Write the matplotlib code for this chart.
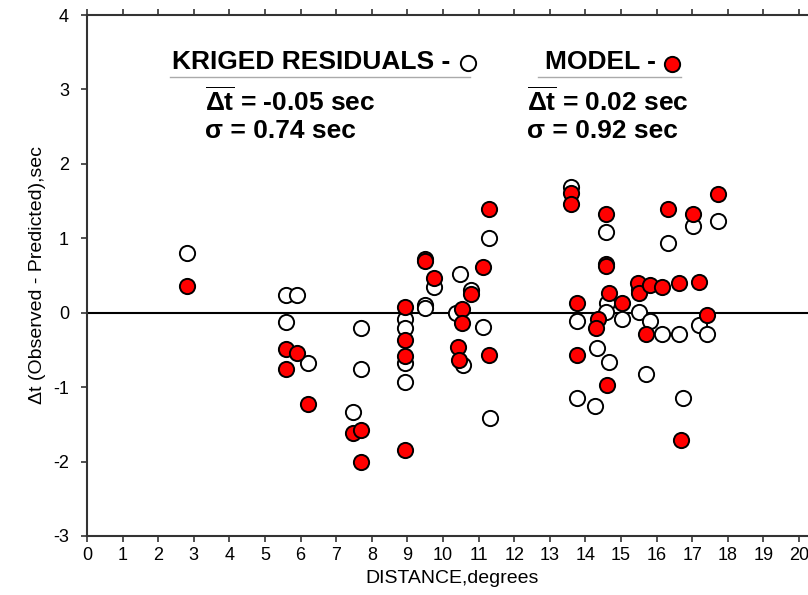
import matplotlib
matplotlib.use("Agg")
import matplotlib.pyplot as plt
from matplotlib.lines import Line2D

plt.rcParams['font.family'] = ['Liberation Sans', 'DejaVu Sans']
plt.rcParams['mathtext.fontset'] = 'custom'
plt.rcParams['mathtext.rm'] = 'Liberation Sans:bold'
plt.rcParams['mathtext.bf'] = 'Liberation Sans:bold'
plt.rcParams['mathtext.it'] = 'Liberation Sans:bold'
plt.rcParams['axes.unicode_minus'] = False

# Kriged residuals (open circles)
kriged_dist = [2.80, 5.58, 5.89, 5.58, 6.22, 7.70, 7.70, 7.48,
               8.93, 8.93, 8.93, 8.93, 9.49, 9.49, 9.75, 10.48, 10.37, 10.57,
               10.80, 11.11, 11.30, 11.31,
               13.59, 13.77, 13.77, 14.33, 14.27, 14.58, 14.60, 14.59, 14.67,
               15.02, 15.51, 15.51, 15.70, 15.81, 16.14, 16.31, 16.63, 16.73,
               17.03, 17.18, 17.41, 17.73]
kriged_res = [0.80, 0.24, 0.24, -0.13, -0.68, -0.20, -0.75, -1.34,
              -0.09, -0.20, -0.68, -0.93, 0.10, 0.06, 0.35, 0.52, -0.01, -0.70,
              0.31, -0.19, 1.01, -1.42,
              1.69, -0.11, -1.15, -0.48, -1.25, 1.08, 0.13, 0.01, -0.66,
              -0.08, 0.30, 0.005, -0.82, -0.11, -0.29, 0.94, -0.29, -1.15,
              1.16, -0.17, -0.29, 1.23]

# Model residuals (red filled circles)
model_dist = [2.80, 5.58, 5.89, 5.58, 6.22, 7.48, 7.70, 7.70,
              8.93, 8.93, 8.93, 8.93, 9.49, 9.49, 9.75, 10.52, 10.52, 10.41, 10.46,
              10.78, 11.13, 11.30, 11.30,
              13.59, 13.59, 13.77, 13.77, 14.36, 14.30, 14.58, 14.58, 14.58, 14.67,
              14.62, 15.02, 15.49, 15.51, 15.70, 15.81, 16.14, 16.31, 16.63, 16.69,
              17.03, 17.18, 17.41, 17.73]
model_res = [0.36, -0.49, -0.54, -0.75, -1.23, -1.62, -1.57, -2.01,
             0.08, -0.37, -0.58, -1.85, 0.72, 0.70, 0.46, 0.045, -0.14, -0.46, -0.64,
             0.25, 0.61, 1.39, -0.57,
             1.61, 1.46, 0.135, -0.57, -0.09, -0.20, 1.33, 0.65, 0.63, 0.27,
             -0.97, 0.13, 0.40, 0.26, -0.29, 0.37, 0.34, 1.39, 0.40, -1.71,
             1.33, 0.41, -0.03, 1.59]

x_ticks = list(range(0, 21))
y_ticks = list(range(-3, 5))

W, H = 808, 595
fig = plt.figure(figsize=(W / 100, H / 100), dpi=100)
ax = fig.add_axes([87 / W, 59 / H, 20.5 * 35.6 / W, 521 / H])

ax.axhline(0, color='black', lw=1.5, zorder=1)
ax.scatter(kriged_dist, kriged_res, s=120, facecolor='white', edgecolor='black',
           linewidth=1.4, zorder=3)
ax.scatter(model_dist, model_res, s=120, facecolor='#ff0000', edgecolor='black',
           linewidth=1.4, zorder=4)

ax.set_xlim(0, 20.5)
ax.set_ylim(-3, 4)
ax.set_xticks(x_ticks)
ax.set_yticks(y_ticks)
ax.tick_params(axis='both', direction='out', length=4, width=1.2, labelsize=13,
               color='#333333')
ax.tick_params(axis='x', top=True, labeltop=False, pad=4)
ax.tick_params(axis='y', pad=9)
for sp in ['left', 'bottom', 'top']:
    ax.spines[sp].set_linewidth(1.5)
    ax.spines[sp].set_color('#333333')
ax.spines['right'].set_visible(False)

ax.set_xlabel('DISTANCE,degrees', fontsize=14, labelpad=4)
ax.set_ylabel('Δt (Observed - Predicted),sec', fontsize=14, labelpad=5)


def fx(px):
    return px / W


def fy(py):
    return 1 - py / H


hfont = dict(fontsize=19, fontweight='bold', va='center', ha='left')
fig.text(fx(172), fy(62), 'KRIGED RESIDUALS -', **hfont)
fig.text(fx(545), fy(62), 'MODEL -', **hfont)
fig.add_artist(Line2D([fx(468)], [fy(63)], marker='o', ms=11, mfc='white',
                      mec='black', mew=1.4, transform=fig.transFigure))
fig.add_artist(Line2D([fx(672)], [fy(64)], marker='o', ms=11, mfc='#ff0000',
                      mec='black', mew=1.4, transform=fig.transFigure))
fig.add_artist(Line2D([fx(170), fx(470)], [fy(77), fy(77)], color='#aaaaaa',
                      lw=1.0, transform=fig.transFigure))
fig.add_artist(Line2D([fx(538), fx(681)], [fy(77), fy(77)], color='#aaaaaa',
                      lw=1.0, transform=fig.transFigure))

fig.text(fx(205), fy(101), r'$\overline{\Delta t}$ = -0.05 sec', **hfont)
fig.text(fx(205), fy(131), 'σ = 0.74 sec', **hfont)
fig.text(fx(527), fy(101), r'$\overline{\Delta t}$ = 0.02 sec', **hfont)
fig.text(fx(527), fy(131), 'σ = 0.92 sec', **hfont)

fig.savefig('out.png', dpi=100)
